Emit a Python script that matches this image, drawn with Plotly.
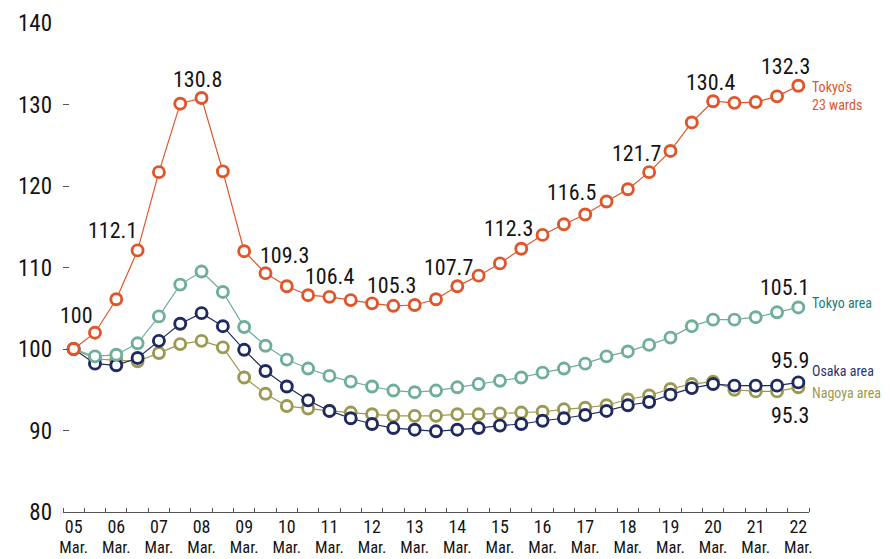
import plotly.graph_objects as go

# ---- data ----
years = ["05", "06", "07", "08", "09", "10", "11", "12", "13", "14",
         "15", "16", "17", "18", "19", "20", "21", "22"]
months = ["Mar.", "Sep."]
periods = [(y, m) for y in years for m in months][:-1]  # 05 Mar. ... 22 Mar.

tokyo23 = [100, 102.0, 106.1, 112.1, 121.7, 130.1, 130.8, 121.8, 112.0, 109.3,
           107.7, 106.6, 106.4, 106.0, 105.6, 105.3, 105.4, 106.1, 107.7, 109.0,
           110.5, 112.3, 114.0, 115.3, 116.5, 118.1, 119.6, 121.7, 124.3, 127.8,
           130.4, 130.2, 130.3, 131.0, 132.3]
tokyo_area = [100, 99.1, 99.3, 100.7, 104.0, 107.9, 109.5, 107.0, 102.7, 100.4,
              98.7, 97.6, 96.7, 96.0, 95.4, 94.9, 94.7, 94.9, 95.3, 95.7,
              96.1, 96.5, 97.1, 97.6, 98.2, 99.1, 99.7, 100.5, 101.4, 102.8,
              103.6, 103.6, 103.9, 104.5, 105.1]
osaka_area = [100, 98.2, 98.0, 98.9, 101.0, 103.1, 104.4, 102.8, 99.9, 97.3,
              95.4, 93.7, 92.4, 91.5, 90.8, 90.3, 90.1, 89.9, 90.1, 90.3,
              90.6, 90.8, 91.2, 91.5, 91.9, 92.4, 93.1, 93.5, 94.4, 95.2,
              95.7, 95.5, 95.5, 95.5, 95.9]
nagoya_area = [100, 98.8, 98.6, 98.5, 99.5, 100.6, 101.0, 100.2, 96.5, 94.5,
               93.0, 92.7, 92.4, 92.2, 92.0, 91.8, 91.8, 91.8, 92.0, 92.0,
               92.1, 92.2, 92.3, 92.6, 92.8, 93.1, 93.8, 94.3, 95.1, 95.7,
               96.0, 95.0, 94.8, 94.8, 95.3]

series_names = ["Tokyo's<br>23 wards", "Tokyo area", "Osaka area", "Nagoya area"]
y_ticks = [80, 90, 100, 110, 120, 130, 140]

# ---- styles ----
FONT = "Roboto Condensed, Roboto, sans-serif"
C_T23 = "#E0562A"
C_TA = "#6FAE9A"
C_OS = "#1F2B60"
C_NG = "#9C9A52"
C_TA_TXT = "#1F7A74"
C_OS_TXT = "#2B3470"
C_NG_TXT = "#9C9A52"

xs = list(range(len(periods)))

fig = go.Figure()


def add_series(vals, color):
    fig.add_trace(go.Scatter(
        x=xs, y=vals, mode="lines+markers",
        line=dict(color=color, width=1.2),
        marker=dict(symbol="circle", size=11, color="white",
                    line=dict(color=color, width=2.9)),
        hoverinfo="skip", showlegend=False,
    ))


add_series(nagoya_area, C_NG)
add_series(osaka_area, C_OS)
add_series(tokyo_area, C_TA)
add_series(tokyo23, C_T23)

annotations = []


def val_label(vals, i, xshift, yshift):
    annotations.append(dict(
        x=xs[i], y=vals[i], xref="x", yref="y", text=f"{vals[i]:g}",
        showarrow=False, xshift=xshift, yshift=yshift,
        xanchor="center", yanchor="middle",
        font=dict(family=FONT, size=22, color="#141414"),
    ))


val_label(tokyo23, 0, 3, 34)
val_label(tokyo23, 3, -25, 20)
val_label(tokyo23, 6, -4, 18)
val_label(tokyo23, 9, 19, 18)
val_label(tokyo23, 12, 0, 20)
val_label(tokyo23, 15, -2, 20)
val_label(tokyo23, 18, -9, 19)
val_label(tokyo23, 21, -13, 20)
val_label(tokyo23, 24, -14, 22)
val_label(tokyo23, 27, -13, 19)
val_label(tokyo23, 30, -3, 19)
val_label(tokyo23, 34, -13, 19)
val_label(tokyo_area, 34, -14, 20)
val_label(osaka_area, 34, -8, 22)
val_label(nagoya_area, 34, -8, -28)


def name_label(vals, name, color, yshift):
    annotations.append(dict(
        x=xs[-1], y=vals[-1], xref="x", yref="y", text=name,
        showarrow=False, xshift=12, yshift=yshift,
        xanchor="left", yanchor="middle", align="left",
        font=dict(family=FONT, size=14, color=color),
    ))


name_label(tokyo23, series_names[0], C_T23, -10)
name_label(tokyo_area, series_names[1], C_TA_TXT, 4)
name_label(osaka_area, series_names[2], C_OS_TXT, 11)
name_label(nagoya_area, series_names[3], C_NG_TXT, -6)

label_vals = [i for i, p in enumerate(periods) if p[1] == "Mar."]
label_text = [f"<span style='font-size:18px'>{periods[i][0]}</span><br>"
              f"<span style='font-size:16.5px'>{periods[i][1]}</span>"
              for i in label_vals]
boundaries = [i - 0.5 for i in range(len(periods) + 1)]

# the page body adds an 8px offset; the figure is sized to fill the rest
fig.update_layout(
    width=882, height=551,
    margin=dict(l=55, r=81, t=15, b=47),
    paper_bgcolor="white", plot_bgcolor="white",
    font=dict(family=FONT, color="#141414"),
    annotations=annotations,
    xaxis=dict(
        range=[-0.5, len(periods) - 0.5], tickmode="array",
        tickvals=label_vals, ticktext=label_text, ticks="",
        ticklabelstandoff=1, automargin=False,
        tickfont=dict(family=FONT, size=15.5, color="#141414"),
        minor=dict(tickmode="array", tickvals=boundaries, ticks="inside",
                   ticklen=4, tickwidth=1, tickcolor="#555555", showgrid=False),
        showline=True, linecolor="#555555", linewidth=1.2,
        showgrid=False, zeroline=False, fixedrange=True,
    ),
    yaxis=dict(
        range=[80, 140], tickmode="array", tickvals=y_ticks,
        ticks="inside", ticklen=6, tickwidth=1, tickcolor="#555555",
        ticklabelstandoff=10, automargin=False,
        tickfont=dict(family=FONT, size=23, color="#141414"),
        showline=False, showgrid=False, zeroline=False,
    ),
)

fig.write_html("out.html")
